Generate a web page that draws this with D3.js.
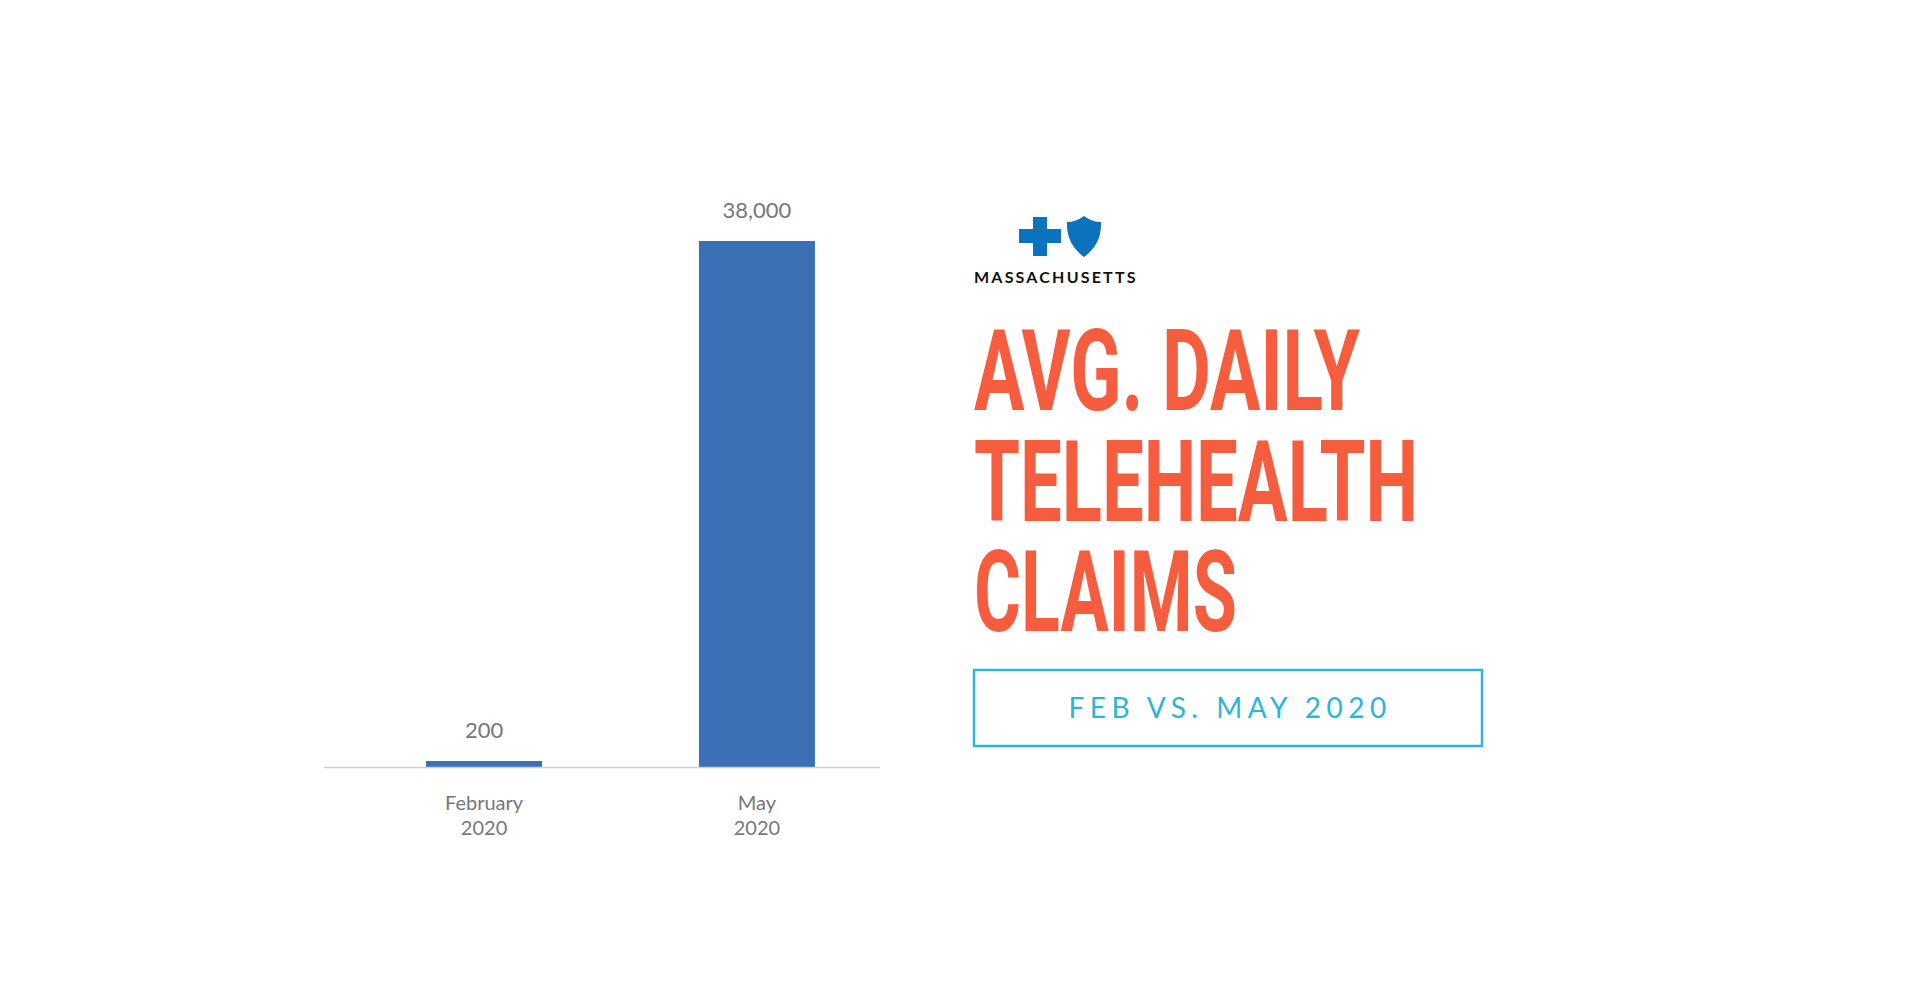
<!DOCTYPE html>
<html>
<head>
<meta charset="utf-8">
<script src="https://cdn.jsdelivr.net/npm/d3@7"></script>
<style>
  body { margin: 0; background: #fff; }
</style>
</head>
<body>
<div id="chart"></div>
<script>
// data
const categories = ["February\n2020", "May\n2020"];
const values = [200, 38000];
const valueLabels = ["200", "38,000"];
const titleLines = ["AVG. DAILY", "TELEHEALTH", "CLAIMS"];
const subtitle = "FEB VS. MAY 2020";

const WIDTH = 1920, HEIGHT = 1005;

const svg = d3.select("#chart").append("svg")
    .attr("width", WIDTH)
    .attr("height", HEIGHT);

// bar chart area
const x = d3.scaleBand()
    .domain(categories)
    .range([324, 917])
    .paddingInner(0.575)
    .paddingOuter(0.374);

const y = d3.scaleLinear()
    .domain([0, 38000])
    .range([767, 241]);

svg.append("g")
    .selectAll("rect")
    .data(values)
    .join("rect")
    .attr("x", (d, i) => x(categories[i]))
    .attr("y", d => Math.min(y(d), 761))
    .attr("width", x.bandwidth())
    .attr("height", d => 767 - Math.min(y(d), 761))
    .attr("fill", "#3b70b4");

// baseline
svg.append("line")
    .attr("x1", 324).attr("x2", 880)
    .attr("y1", 767.5).attr("y2", 767.5)
    .attr("stroke", "#d0d0d0").attr("stroke-width", 1.5);

// value labels
svg.append("g")
    .selectAll("text")
    .data(values)
    .join("text")
    .attr("x", (d, i) => x(categories[i]) + x.bandwidth() / 2)
    .attr("y", d => Math.min(y(d), 761) - 23)
    .attr("text-anchor", "middle")
    .attr("font-family", "Lato, 'Open Sans', sans-serif")
    .attr("font-size", 22)
    .attr("fill", "#777")
    .text((d, i) => valueLabels[i]);

// category labels
const cat = svg.append("g")
    .selectAll("text")
    .data(categories)
    .join("text")
    .attr("x", d => x(d) + x.bandwidth() / 2)
    .attr("y", 810)
    .attr("text-anchor", "middle")
    .attr("font-family", "Lato, 'Open Sans', sans-serif")
    .attr("font-size", 20)
    .attr("fill", "#777");
cat.selectAll("tspan")
    .data(d => d.split("\n"))
    .join("tspan")
    .attr("x", function () { return d3.select(this.parentNode).attr("x"); })
    .attr("dy", (d, i) => i ? 25 : 0)
    .text(d => d);

// logo
const logo = svg.append("g").attr("fill", "#0b72bd");
logo.append("rect").attr("x", 1033).attr("y", 217).attr("width", 14).attr("height", 39);
logo.append("rect").attr("x", 1019).attr("y", 229).attr("width", 42).attr("height", 14);
logo.append("path")
    .attr("d", "M1067,222 Q1076,222 1084,216 Q1092,222 1101,222 Q1102,244 1084,257 Q1066,244 1067,222 Z");

svg.append("text")
    .attr("x", 974).attr("y", 283)
    .attr("font-family", "Lato, 'Open Sans', sans-serif")
    .attr("font-weight", "bold")
    .attr("font-size", 16)
    .attr("letter-spacing", 2.2)
    .attr("fill", "#111")
    .text("MASSACHUSETTS");

// title
const titleWidths = [386, 444, 263];
const titleBase = [410, 521, 631];
svg.append("g")
    .selectAll("text")
    .data(titleLines)
    .join("text")
    .attr("x", 974)
    .attr("y", (d, i) => titleBase[i])
    .attr("font-family", "'Liberation Sans Narrow', 'Roboto', sans-serif")
    .attr("font-weight", "bold")
    .attr("font-size", 113)
    .attr("textLength", (d, i) => titleWidths[i])
    .attr("lengthAdjust", "spacingAndGlyphs")
    .attr("fill", "#f55d3e")
    .text(d => d);

// subtitle box
svg.append("rect")
    .attr("x", 974).attr("y", 670)
    .attr("width", 508).attr("height", 76)
    .attr("fill", "none")
    .attr("stroke", "#2bb5d9")
    .attr("stroke-width", 2.5);

svg.append("text")
    .attr("x", 1230).attr("y", 718)
    .attr("text-anchor", "middle")
    .attr("font-family", "Lato, 'Open Sans', sans-serif")
    .attr("font-size", 28)
    .attr("letter-spacing", 5.5)
    .attr("fill", "#2bb5d9")
    .text(subtitle);
</script>
</body>
</html>
